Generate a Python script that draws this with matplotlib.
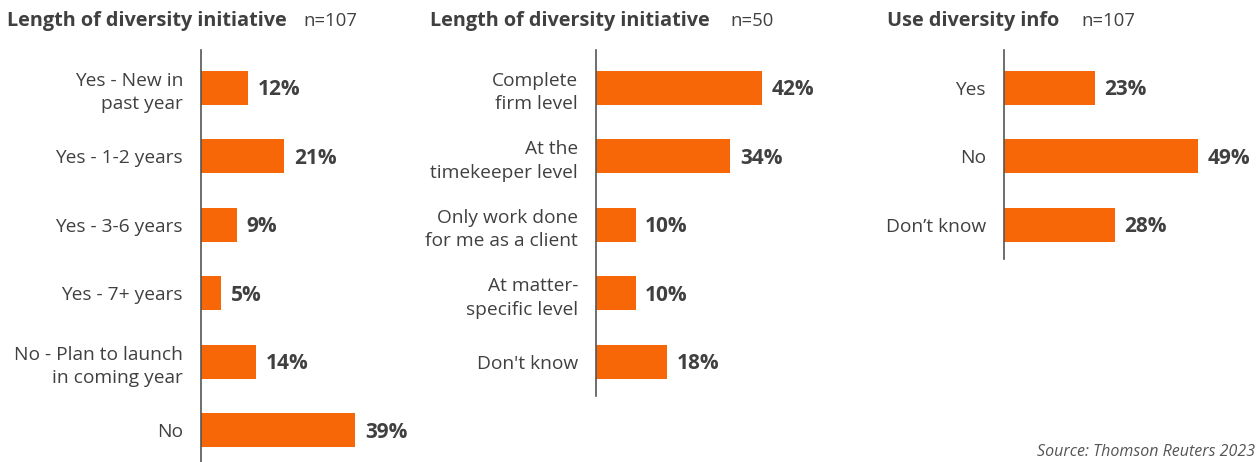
import matplotlib.pyplot as plt

plt.rcParams['font.family'] = ['Open Sans', 'DejaVu Sans']

# data
titles = ['Length of diversity initiative', 'Length of diversity initiative', 'Use diversity info']
ns = ['n=107', 'n=50', 'n=107']

labels1 = ['Yes - New in\npast year', 'Yes - 1-2 years', 'Yes - 3-6 years', 'Yes - 7+ years',
           'No - Plan to launch\nin coming year', 'No']
values1 = [12, 21, 9, 5, 14, 39]

labels2 = ['Complete\nfirm level', 'At the\ntimekeeper level', 'Only work done\nfor me as a client',
           'At matter-\nspecific level', "Don't know"]
values2 = [42, 34, 10, 10, 18]

labels3 = ['Yes', 'No', 'Don\u2019t know']
values3 = [23, 49, 28]

bar_color = '#F76707'
text_color = '#404040'

W, H = 1258, 462
fig = plt.figure(figsize=(W / 100, H / 100), dpi=100)

px_per_pct = 3.95
row_h = 68.5
top = 50

# (labels, values, axis x, title x, n= x) in pixels
panels = [
    (labels1, values1, 201, 7, 303),
    (labels2, values2, 596, 430, 730),
    (labels3, values3, 1004, 887, 1081),
]

for i, (labs, vals, x0, tx, nx) in enumerate(panels):
    n = len(vals)
    width_px = 230
    height_px = (n + 0.05) * row_h
    ax = fig.add_axes([x0 / W, 1 - (top + height_px) / H, width_px / W, height_px / H])
    ax.barh(range(n), vals, height=0.5, color=bar_color)
    ax.set_xlim(0, width_px / px_per_pct)
    ax.set_ylim(n - 0.5, -0.55)
    for s in ['top', 'right', 'bottom']:
        ax.spines[s].set_visible(False)
    ax.spines['left'].set_color('#555555')
    ax.spines['left'].set_linewidth(1.2)
    ax.set_xticks([])
    ax.set_yticks(range(n))
    ax.set_yticklabels(labs, fontsize=13.8, color=text_color, linespacing=1.4)
    ax.tick_params(axis='y', length=0, pad=13)
    for j, v in enumerate(vals):
        ax.annotate(f'{v}%', (v, j), xytext=(7, -1.5), textcoords='offset points',
                    va='center', ha='left', fontsize=15, fontweight='bold', color=text_color)
    ax.patch.set_alpha(0)

    fig.text(tx / W, 1 - 26 / H, titles[i], fontsize=14.3, fontweight='bold',
             color=text_color, va='baseline', ha='left')
    fig.text(nx / W, 1 - 26 / H, ns[i], fontsize=13.3, color=text_color,
             va='baseline', ha='left')

fig.text(1255 / W, 1 - 456 / H, 'Source: Thomson Reuters 2023', fontsize=11.5,
         style='italic', color='#555555', va='baseline', ha='right')

fig.savefig('out.png', dpi=100)
